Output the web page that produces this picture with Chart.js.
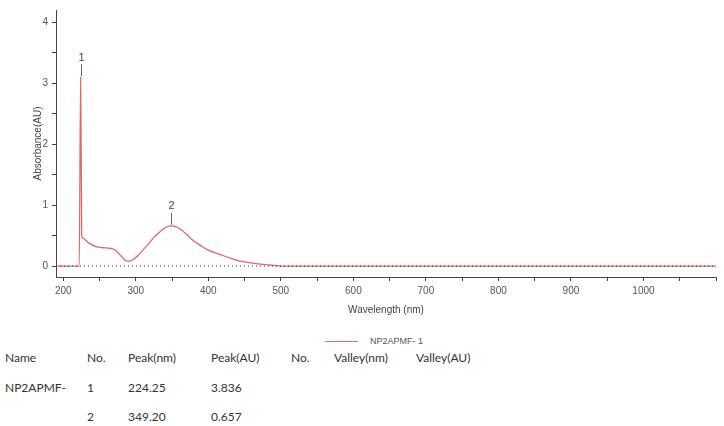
<!DOCTYPE html>
<html>
<head>
<meta charset="utf-8">
<script src="https://cdn.jsdelivr.net/npm/chart.js@4/dist/chart.umd.min.js"></script>
<style>
  body { margin: 0; background: #fff; width: 724px; height: 426px; overflow: hidden; position: relative; }
  #wrap { position: absolute; left: 0; top: 0; width: 724px; height: 330px; }
  .legend { position: absolute; left: 325px; top: 336px; font: 9px "Liberation Sans", Arial, sans-serif; color: #555; }
  .legend span.line { display: inline-block; width: 33px; height: 0; border-top: 1.5px solid #e07070; vertical-align: middle; margin-right: 12px; }
  table { position: absolute; left: 5px; top: 343px; border-collapse: collapse; font: 12px Lato, "Open Sans", sans-serif; color: #333; }
  td { padding: 0; height: 29.5px; white-space: nowrap; }
</style>
</head>
<body>
<div id="wrap"><canvas id="spectrum" width="724" height="330"></canvas></div>
<div class="legend"><span class="line"></span>NP2APMF- 1</div>
<table>
  <tr><td style="width:82px">Name</td><td style="width:41px">No.</td><td style="width:83px">Peak(nm)</td><td style="width:80px">Peak(AU)</td><td style="width:43px">No.</td><td style="width:82px">Valley(nm)</td><td>Valley(AU)</td></tr>
  <tr><td>NP2APMF-</td><td>1</td><td>224.25</td><td>3.836</td><td></td><td></td><td></td></tr>
  <tr><td></td><td>2</td><td>349.20</td><td>0.657</td><td></td><td></td><td></td></tr>
</table>
<script>
// spectrum
const wavelength = [190, 222, 224, 225.5, 228, 235, 245, 255, 265, 272, 280, 286, 292, 298, 305, 315, 325, 335, 342, 349.2, 356, 362, 370, 380, 390, 400, 416, 430, 444, 458, 472, 490, 500, 1100];
const absorbance = [0, 0, 3.1, 0.5, 0.45, 0.38, 0.32, 0.3, 0.29, 0.26, 0.16, 0.09, 0.08, 0.12, 0.2, 0.33, 0.47, 0.58, 0.64, 0.66, 0.64, 0.6, 0.52, 0.41, 0.33, 0.26, 0.19, 0.13, 0.08, 0.05, 0.03, 0.01, 0, 0];

// peak markers: number, wavelength, top of curve
const peakNo = ['1', '2'];
const peakNm = [224.25, 349.2];
const peakAU = [3.1, 0.66];

const xTicks = [200, 250, 300, 350, 400, 450, 500, 550, 600, 650, 700, 750, 800, 850, 900, 950, 1000, 1050, 1100];
const yTicks = [0, 0.5, 1, 1.5, 2, 2.5, 3, 3.5, 4];

const axisColor = '#555';
const tickFont = { family: 'Liberation Sans, Arial, sans-serif', size: 10 };

const peakLabels = {
    id: 'peakLabels',
    afterDatasetsDraw(chart) {
        const { ctx, scales: { x, y } } = chart;
        ctx.save();
        ctx.strokeStyle = '#666';
        ctx.fillStyle = '#444';
        ctx.lineWidth = 1;
        ctx.font = '11px Liberation Sans, Arial, sans-serif';
        ctx.textAlign = 'center';
        ctx.textBaseline = 'bottom';
        peakNo.forEach((no, i) => {
            const px = Math.round(x.getPixelForValue(peakNm[i])) + 0.5;
            const py = y.getPixelForValue(peakAU[i]);
            ctx.beginPath();
            ctx.moveTo(px, py - 1);
            ctx.lineTo(px, py - 13);
            ctx.stroke();
            ctx.fillText(no, px, py - 14);
        });
        ctx.restore();
    }
};

const ctx = document.getElementById('spectrum').getContext('2d');
const spectrumChart = new Chart(ctx, {
    type: 'line',
    data: {
        datasets: [{
            label: 'NP2APMF- 1',
            data: wavelength.map((w, i) => ({ x: w, y: absorbance[i] })),
            borderColor: '#e06868',
            borderWidth: 1.3,
            pointRadius: 0,
            cubicInterpolationMode: 'monotone',
            order: 2,
        }, {
            label: 'baseline',
            data: [{ x: 190, y: 0 }, { x: 1100, y: 0 }],
            borderColor: '#333',
            borderWidth: 1,
            borderDash: [1, 3],
            pointRadius: 0,
            order: 1,
        }],
    },
    options: {
        responsive: false,
        animation: false,
        layout: { padding: { left: 28, right: 8, top: 8, bottom: 10 } },
        plugins: { legend: { display: false }, tooltip: { enabled: false } },
        scales: {
            x: {
                type: 'linear',
                min: 190,
                max: 1100,
                afterBuildTicks: (scale) => { scale.ticks = xTicks.map(v => ({ value: v })); },
                afterFit: (scale) => { scale.height = 43; },
                ticks: {
                    color: axisColor,
                    font: tickFont,
                    maxRotation: 0,
                    autoSkip: false,
                    padding: 4,
                    callback: (v) => (v % 100 === 0 && v <= 1000 ? v : ''),
                },
                grid: { drawOnChartArea: false, color: '#444', tickLength: 4 },
                border: { color: '#444' },
                title: { display: true, text: 'Wavelength (nm)', color: '#444', font: tickFont, padding: { top: 8 } },
            },
            y: {
                min: -0.18,
                max: 4.2,
                afterBuildTicks: (scale) => { scale.ticks = yTicks.map(v => ({ value: v })); },
                afterFit: (scale) => { scale.width = 28; },
                ticks: {
                    color: axisColor,
                    font: tickFont,
                    padding: 4,
                    callback: (v) => (Number.isInteger(v) ? v : ''),
                },
                grid: { drawOnChartArea: false, color: '#444', tickLength: 4 },
                border: { color: '#444' },
                title: { display: true, text: 'Absorbance(AU)', color: '#444', font: tickFont, padding: { bottom: 6 } },
            },
        },
    },
    plugins: [peakLabels],
});
</script>
</body>
</html>
